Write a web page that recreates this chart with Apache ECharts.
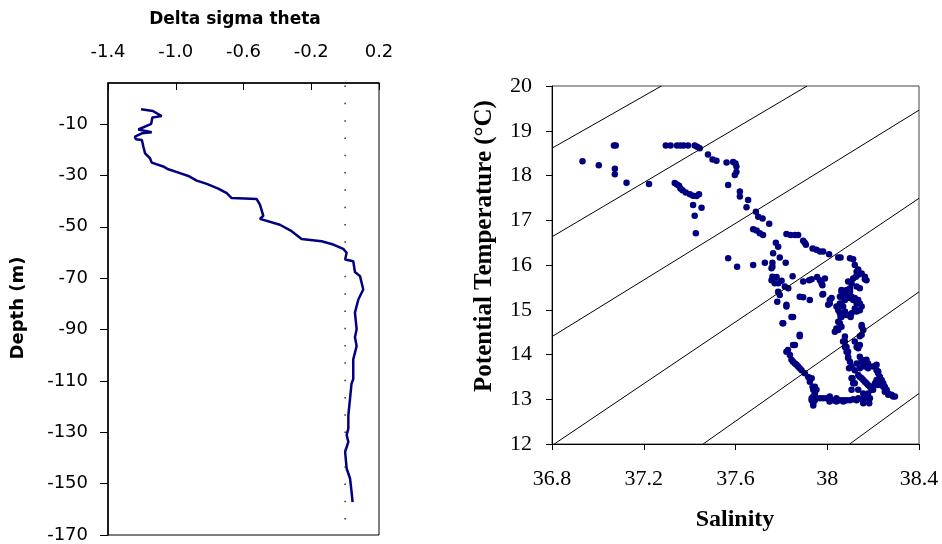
<!DOCTYPE html>
<html>
<head>
<meta charset="utf-8">
<script src="https://cdn.jsdelivr.net/npm/echarts@6/dist/echarts.min.js"></script>
<style>
html,body{margin:0;padding:0;background:#fff}
#main{width:942px;height:544px}
</style>
</head>
<body>
<div id="main"></div>
<script>
// left panel: delta sigma theta profile
const sigmaTicks = [-1.4, -1.0, -0.6, -0.2, 0.2]
const depthTicks = [-170, -150, -130, -110, -90, -70, -50, -30, -10]
const deltaSigma = [-1.205, -1.135, -1.083, -1.138, -1.145, -1.221, -1.142, -1.2, -1.241, -1.235, -1.2, -1.191, -1.181, -1.152, -1.142, -1.074, -1.044, -0.975, -0.926, -0.876, -0.817, -0.749, -0.699, -0.670, -0.522, -0.503, -0.483, -0.503, -0.385, -0.316, -0.257, -0.139, -0.070, -0.011, 0.009, 0.0, 0.048, 0.058, 0.088, 0.107, 0.078, 0.058, 0.068, 0.058, 0.068, 0.048, 0.048, 0.038, 0.029, 0.019, 0.019, 0.009, 0.019, 0.0, 0.009, 0.029, 0.038, 0.044]
const depth = [-4.2, -4.9, -6.9, -7.4, -9.9, -12.1, -13.2, -13.6, -14.9, -15.9, -16.2, -18.8, -21.4, -23.3, -25.0, -26.5, -27.6, -29.1, -30.2, -32.0, -33.3, -35.1, -36.9, -38.8, -39.2, -41.4, -45.7, -46.9, -49.2, -51.7, -54.7, -55.6, -56.9, -58.6, -60.1, -62.7, -63.4, -67.6, -69.2, -74.4, -78.3, -83.4, -89.9, -93.0, -96.4, -101.6, -109.3, -111.0, -116.9, -123.4, -128.5, -131.1, -133.7, -137.6, -144.1, -148.0, -153.1, -157.2]
const zeroLine = [[0, 5], [0, -164]]

// right panel: T-S diagram
const salTicks = [36.8, 37.2, 37.6, 38, 38.4]
const tempTicks = [12, 13, 14, 15, 16, 17, 18, 19, 20]
const isopycnals = [
  [[36.8, 18.61], [37.277, 20]],
  [[36.8, 16.63], [37.912, 20]],
  [[36.8, 14.40], [38.4, 19.46]],
  [[36.81, 12.0], [38.4, 17.49]],
  [[37.459, 12.0], [38.4, 15.40]],
  [[38.098, 12.0], [38.4, 13.13]]
]
const tsPoints = [
  [36.933,18.32],[37.004,18.23],[37.070,18.67],[37.078,18.67],[37.074,18.15],[37.074,18.03],[37.125,17.84],[37.223,17.81],
  [37.296,18.67],[37.317,18.67],[37.345,18.67],[37.360,18.67],[37.374,18.67],[37.393,18.67],[37.422,18.67],[37.433,18.64],[37.444,18.61],
  [37.480,18.47],[37.500,18.36],[37.517,18.33],[37.561,18.29],[37.590,18.30],[37.600,18.27],[37.604,18.20],[37.597,18.01],[37.604,18.08],[37.568,17.79],
  [37.335,17.83],[37.345,17.80],[37.354,17.77],[37.360,17.71],[37.369,17.67],[37.383,17.62],[37.401,17.58],[37.415,17.55],[37.430,17.54],[37.441,17.58],
  [37.415,17.34],[37.452,17.28],[37.422,17.10],[37.427,16.71],
  [37.619,17.64],[37.619,17.53],[37.655,17.45],[37.648,17.29],[37.689,17.19],[37.699,17.08],[37.718,17.04],[37.747,16.92],
  [37.677,16.80],[37.692,16.77],[37.706,16.71],[37.720,16.67],
  [37.776,16.50],[37.786,16.41],[37.764,16.26],[37.793,16.17],[37.819,16.05],[37.728,16.05],[37.761,16.05],[37.761,15.96],[37.677,16.00],[37.568,16.15],[37.607,15.96],
  [37.822,16.69],[37.840,16.67],[37.859,16.67],[37.873,16.67],[37.895,16.54],[37.902,16.50],[37.907,16.45],[37.936,16.37],[37.953,16.34],[37.968,16.30],[37.982,16.30],
  [38.008,16.24],[38.048,16.17],[38.058,16.17],[38.099,16.15],[38.113,16.13],[38.120,16.00],[38.135,15.90],
  [37.757,15.93],[37.761,15.74],[37.779,15.73],[37.801,15.65],[37.849,15.75],[37.757,15.66],[37.771,15.59],[37.786,15.59],[37.786,15.40],[37.793,15.33],[37.782,15.18],[37.830,15.48],[37.822,15.07],[37.844,14.84],[37.805,14.70],[37.880,14.41],
  [37.815,15.52],[37.822,15.11],[37.851,14.84],[37.808,14.70],[37.880,14.44],
  [37.895,15.63],[37.921,15.66],[37.932,15.68],[37.956,15.73],[37.968,15.66],[37.975,15.59],[37.979,15.55],[37.990,15.70],
  [37.880,15.29],[37.895,15.28],[37.924,15.22],[37.982,15.35],[38.011,15.14],[37.979,15.34],[38.011,15.22],[38.019,15.26],[38.004,15.11],
  [38.128,15.85],[38.135,15.78],[38.125,15.74],[38.150,15.81],[38.164,15.74],[38.164,15.68],[38.113,15.70],[38.106,15.59],[38.171,15.66],
  [38.091,15.63],[38.099,15.48],[38.128,15.52],[38.142,15.48],
  [38.062,15.44],[38.069,15.37],[38.084,15.44],[38.099,15.40],[38.091,15.33],[38.106,15.29],[38.120,15.26],[38.135,15.22],[38.142,15.14],[38.150,15.07],[38.142,14.99],[38.128,14.96],[38.106,14.92],[38.091,14.88],
  [38.062,15.40],[38.077,15.40],[38.091,15.43],[38.099,15.44],
  [38.055,15.29],[38.069,15.29],[38.077,15.22],[38.062,15.14],[38.069,15.07],
  [38.099,15.26],[38.113,15.22],[38.128,15.14],[38.120,15.03],
  [38.040,15.07],[38.048,14.99],[38.055,14.92],[38.058,14.84],[38.055,15.14],[38.048,15.03],[38.062,14.84],
  [38.077,14.96],[38.084,14.88],[38.102,14.84],
  [38.048,14.73],[38.040,14.58],[38.033,14.51],[38.062,14.62],[38.055,14.70],[38.048,14.55],
  [38.157,14.55],[38.150,14.62],[38.142,14.41],[38.150,14.66],[38.150,14.44],[38.142,14.21],[38.135,14.14],
  [38.077,14.40],[38.077,14.29],[38.084,14.17],[38.091,14.06],[38.091,13.92],
  [38.069,14.29],[38.077,14.17],[38.084,14.06],[38.091,13.95],[38.099,13.84],[38.106,13.73],[38.120,13.65],
  [38.120,14.29],[38.128,14.17],[38.095,13.69],
  [38.142,13.95],[38.150,13.88],[38.157,13.80],[38.164,13.73],[38.150,13.84],[38.164,13.77],[38.178,13.69],[38.200,13.73],[38.215,13.77],
  [38.128,13.80],[38.142,13.69],[38.171,13.88],[38.178,13.80],
  [38.208,13.74],[38.215,13.65],[38.222,13.58],
  [38.222,13.62],[38.229,13.50],[38.237,13.43],[38.244,13.36],[38.251,13.28],[38.259,13.21],[38.266,13.13],[38.280,13.10],[38.295,13.06],
  [38.229,13.50],[38.237,13.39],[38.244,13.28],[38.251,13.17],[38.266,13.10],[38.287,13.06],
  [38.110,13.47],[38.120,13.36],[38.106,13.47],[38.113,13.36],[38.106,13.21],
  [38.135,13.54],[38.150,13.47],[38.164,13.39],[38.178,13.32],[38.193,13.28],[38.208,13.36],
  [38.142,13.50],[38.157,13.43],[38.171,13.36],[38.186,13.28],[38.193,13.21],[38.200,13.28],[38.215,13.36],[38.229,13.43],
  [38.215,13.43],[38.222,13.32],[38.200,13.21],
  [38.135,13.21],[38.157,13.13],[38.164,13.02],[38.157,12.91],[38.178,13.13],[38.186,13.02],[38.183,12.91],
  [37.968,13.02],[37.997,13.02],[38.026,12.98],[38.055,12.98],[38.084,12.98],[38.113,13.00],[38.135,13.02],[38.010,12.95],[38.040,12.95],[38.070,12.95],
  [37.982,13.02],[38.011,13.06],[38.040,13.02],[38.069,12.98],[38.099,12.98],[38.128,12.98],[38.150,13.00],[38.164,13.02],
  [37.932,13.02],[37.939,12.91],
  [37.851,14.21],[37.829,14.10],[37.837,13.99],[37.844,13.88],[37.859,13.80],[37.873,13.73],[37.888,13.65],[37.902,13.58],[37.917,13.50],[37.924,13.39],[37.936,13.28],[37.939,13.21],[37.946,13.13],[37.939,13.06],[37.932,12.98],
  [37.859,14.21],[37.822,14.06],[37.851,13.84],[37.866,13.77],[37.880,13.69],[37.932,13.47],[37.946,13.28],[37.953,13.21],[37.946,13.10],[37.946,12.98],[37.939,12.86]
]

var profile = []
deltaSigma.forEach(function(v, i){
  profile.push([v, depth[i]])
})

var myChart = echarts.init(document.getElementById('main'))

var sans = 'DejaVu Sans'
var serif = 'Liberation Serif'

var series = [
  {
    type: 'line', xAxisIndex: 0, yAxisIndex: 0,
    data: profile, showSymbol: false, symbol: 'none',
    lineStyle: {color: '#000080', width: 2.5}
  },
  {
    type: 'line', xAxisIndex: 0, yAxisIndex: 0,
    data: zeroLine, showSymbol: false, symbol: 'none',
    lineStyle: {color: '#333', width: 1.5, type: [1.5, 15.8]}
  }
]
isopycnals.forEach(function(seg){
  series.push({
    type: 'line', xAxisIndex: 1, yAxisIndex: 1,
    data: seg, showSymbol: false, symbol: 'none', silent: true,
    lineStyle: {color: '#000', width: 1}
  })
})
series.push({
  type: 'scatter', xAxisIndex: 1, yAxisIndex: 1,
  data: tsPoints, symbolSize: 6.5,
  itemStyle: {color: '#000080', opacity: 1}
})

var option = {
  animation: false,
  backgroundColor: '#fff',
  grid: [
    {left: 108, top: 83, width: 271, height: 454, show: true, borderColor: '#000', borderWidth: 1},
    {left: 552, top: 86, width: 367, height: 358, show: true, borderColor: '#444', borderWidth: 1}
  ],
  xAxis: [
    {
      gridIndex: 0, type: 'value', position: 'top', min: -1.4, max: 0.2,
      splitLine: {show: false},
      axisLine: {show: true, onZero: false, lineStyle: {color: '#000', width: 1.5}},
      axisTick: {show: true, inside: true, length: 7, customValues: sigmaTicks, lineStyle: {color: '#000'}},
      axisLabel: {
        customValues: sigmaTicks, margin: 22, color: '#000', fontFamily: sans, fontSize: 18,
        formatter: function(v){ return v.toFixed(1) }
      }
    },
    {
      gridIndex: 1, type: 'value', min: 36.8, max: 38.4,
      splitLine: {show: false},
      axisLine: {show: true, onZero: false, lineStyle: {color: '#000', width: 1}},
      axisTick: {show: true, length: 6, customValues: salTicks, lineStyle: {color: '#000'}},
      axisLabel: {customValues: salTicks, margin: 24, color: '#000', fontFamily: serif, fontSize: 22}
    }
  ],
  yAxis: [
    {
      gridIndex: 0, type: 'value', min: -170, max: 6,
      splitLine: {show: false},
      axisLine: {show: true, onZero: false, lineStyle: {color: '#000', width: 1.5}},
      axisTick: {show: true, length: 8, customValues: depthTicks, lineStyle: {color: '#000'}},
      axisLabel: {customValues: depthTicks, margin: 20, color: '#000', fontFamily: sans, fontSize: 18}
    },
    {
      gridIndex: 1, type: 'value', min: 12, max: 20,
      splitLine: {show: false},
      axisLine: {show: true, onZero: false, lineStyle: {color: '#000', width: 1}},
      axisTick: {show: true, length: 6, customValues: tempTicks, lineStyle: {color: '#000'}},
      axisLabel: {customValues: tempTicks, margin: 20, color: '#000', fontFamily: serif, fontSize: 22}
    }
  ],
  graphic: [
    {
      type: 'text', x: 235, y: 20,
      style: {text: 'Delta sigma theta', fontFamily: sans, fontWeight: 'bold', fontSize: 17, fill: '#000', align: 'center', verticalAlign: 'middle'}
    },
    {
      type: 'text', x: 18, y: 308, rotation: Math.PI / 2,
      style: {text: 'Depth (m)', fontFamily: sans, fontWeight: 'bold', fontSize: 18, fill: '#000', align: 'center', verticalAlign: 'middle'}
    },
    {
      type: 'text', x: 735, y: 520,
      style: {text: 'Salinity', fontFamily: serif, fontWeight: 'bold', fontSize: 24, fill: '#000', align: 'center', verticalAlign: 'middle'}
    },
    {
      type: 'text', x: 485, y: 246, rotation: Math.PI / 2,
      style: {text: 'Potential Temperature (°C)', fontFamily: serif, fontWeight: 'bold', fontSize: 25, fill: '#000', align: 'center', verticalAlign: 'middle'}
    }
  ],
  series: series
}
myChart.setOption(option)
</script>
</body>
</html>
